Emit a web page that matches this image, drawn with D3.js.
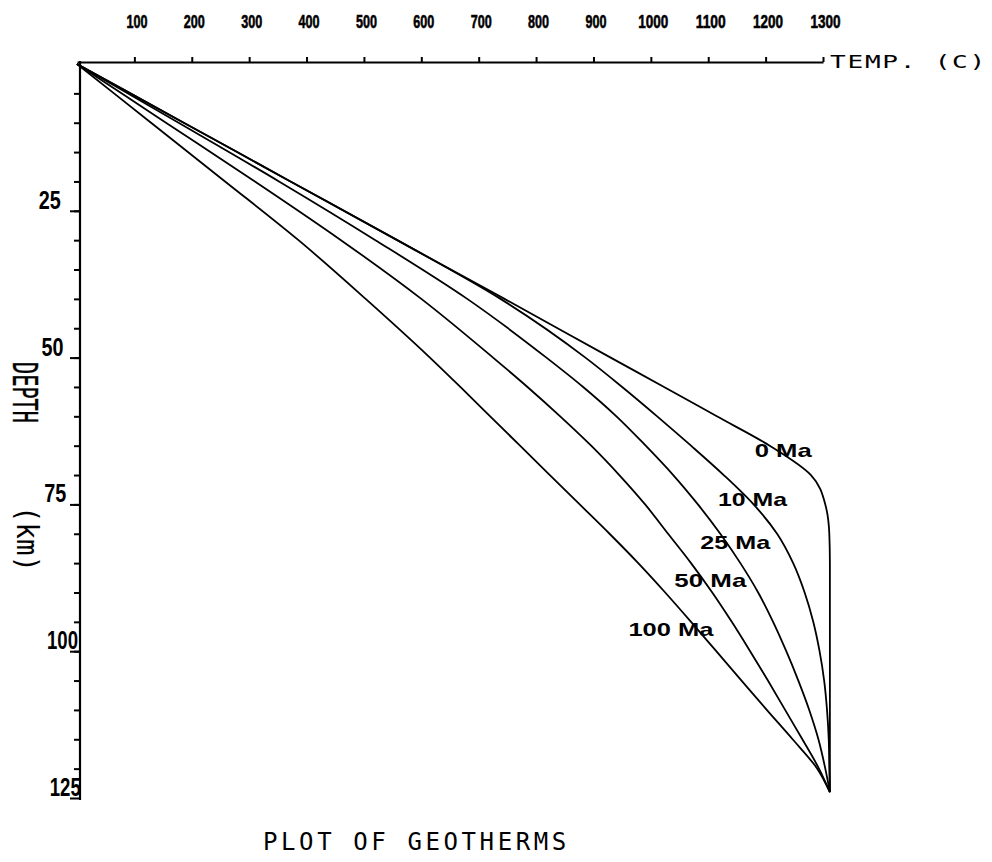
<!DOCTYPE html>
<html>
<head>
<meta charset="utf-8">
<script src="https://cdn.jsdelivr.net/npm/d3@7"></script>
<style>
  body { margin: 0; background: #fff; }
  svg { display: block; }
  text { fill: #000; }
</style>
</head>
<body>
<div class="chart"></div>
<script>
var svgWidth = 992;
var svgHeight = 862;

var depthKm = [0, 10, 20, 30, 40, 50, 55, 60, 65, 70, 75, 80, 85, 90, 95, 100, 105, 110, 115, 120, 124];

// temperature (C) of each geotherm at those depths
var temp0Ma   = [0, 186, 372, 558, 745, 930, 1023, 1115, 1207, 1279, 1304, 1311, 1312, 1312, 1312, 1312, 1312, 1312, 1312, 1312, 1312];
var temp10Ma  = [0, 186, 372, 558, 738, 886, 950, 1011, 1070, 1127, 1179, 1220, 1248, 1268, 1283, 1294, 1302, 1307, 1310, 1311, 1312];
var temp25Ma  = [0, 177, 352, 520, 680, 818, 882, 940, 991, 1039, 1082, 1121, 1156, 1187, 1213, 1236, 1257, 1276, 1292, 1304, 1312];
var temp50Ma  = [0, 155, 310, 460, 600, 725, 785, 842, 896, 945, 990, 1030, 1070, 1107, 1141, 1173, 1204, 1234, 1264, 1293, 1312];
var temp100Ma = [0, 129, 258, 386, 503, 615, 668, 720, 772, 824, 876, 928, 978, 1025, 1070, 1114, 1158, 1202, 1247, 1290, 1312];

var ageLabels = ["0 Ma", "10 Ma", "25 Ma", "50 Ma", "100 Ma"];
var tempTicks = [100, 200, 300, 400, 500, 600, 700, 800, 900, 1000, 1100, 1200, 1300];
var depthTicks = [25, 50, 75, 100, 125];

var series = [temp0Ma, temp10Ma, temp25Ma, temp50Ma, temp100Ma];

// where each age label sits (temp, depth) and how wide it is drawn
var labelSpots = [[1181, 66.9, 57], [1117, 75.3, 69], [1086, 82.6, 70], [1041, 89.1, 72], [961, 97.4, 85]];

var svg = d3.select(".chart")
  .append("svg")
  .attr("width", svgWidth)
  .attr("height", svgHeight);

var x = d3.scaleLinear().domain([0, 1300]).range([77, 823]);
var y = d3.scaleLinear().domain([0, 125]).range([64, 798]);

// top temperature axis
var topAxis = svg.append("g")
  .attr("transform", "translate(0,62)")
  .call(d3.axisTop(x).tickValues(tempTicks).tickFormat(d3.format("d"))
    .tickSize(5).tickSizeOuter(0).tickPadding(29));

topAxis.select(".domain").attr("stroke", "#000").attr("stroke-width", 2);
topAxis.selectAll(".tick line").attr("stroke", "#000").attr("stroke-width", 2);
topAxis.selectAll(".tick text")
  .attr("x", 2)
  .attr("font-family", "Liberation Sans, Arial, sans-serif")
  .attr("font-weight", "bold")
  .attr("font-size", 19)
  .attr("stroke", "#000")
  .attr("stroke-width", 0.6)
  .attr("textLength", d => d >= 1000 ? 30 : 21)
  .attr("lengthAdjust", "spacingAndGlyphs");

// plotter lettering is stretched sideways
svg.append("text")
  .attr("transform", "translate(830,68) scale(1.45,1)")
  .attr("font-family", "DejaVu Sans Mono, monospace")
  .attr("font-size", 18)
  .attr("letter-spacing", 1.2)
  .text("TEMP. (C)");

// left depth axis
var leftG = svg.append("g").attr("transform", "translate(80,0)");

leftG.append("g")
  .call(d3.axisLeft(y).tickValues(d3.range(5, 125, 5)).tickSize(6).tickFormat(""))
  .call(g => g.select(".domain").remove())
  .selectAll("line").attr("stroke", "#000").attr("stroke-width", 2);

leftG.append("g")
  .call(d3.axisLeft(y).tickValues(depthTicks).tickSize(10).tickFormat(""))
  .call(g => g.select(".domain").remove())
  .selectAll("line").attr("stroke", "#000").attr("stroke-width", 2);

leftG.append("line")
  .attr("x1", 0).attr("x2", 0)
  .attr("y1", 61).attr("y2", 800)
  .attr("stroke", "#000")
  .attr("stroke-width", 2.2);

svg.selectAll(".depthLabel")
  .data(depthTicks)
  .enter()
  .append("text")
  .attr("class", "depthLabel")
  .attr("x", d => 36 + 0.11 * d)
  .attr("y", d => y(d) - 2)
  .attr("font-family", "Liberation Sans, Arial, sans-serif")
  .attr("font-weight", "bold")
  .attr("font-size", 25)
  .attr("textLength", d => d >= 100 ? 31 : 22)
  .attr("lengthAdjust", "spacingAndGlyphs")
  .text(d => d);

svg.append("text")
  .attr("transform", "translate(13,362) rotate(90)")
  .attr("font-family", "DejaVu Sans Mono, monospace")
  .attr("font-size", 34)
  .attr("stroke", "#000")
  .attr("stroke-width", 0.4)
  .attr("textLength", 61)
  .attr("lengthAdjust", "spacingAndGlyphs")
  .text("DEPTH");

svg.append("text")
  .attr("transform", "translate(17,506) rotate(90)")
  .attr("font-family", "DejaVu Sans Mono, monospace")
  .attr("font-size", 30)
  .attr("textLength", 66)
  .attr("lengthAdjust", "spacingAndGlyphs")
  .text("(km)");

// geotherms
var line = d3.line()
  .x(d => x(d[0]))
  .y(d => y(d[1]))
  .curve(d3.curveMonotoneY);

svg.selectAll(".geotherm")
  .data(series)
  .enter()
  .append("path")
  .attr("class", "geotherm")
  .attr("d", s => line(s.map((t, i) => [t, depthKm[i]])))
  .attr("fill", "none")
  .attr("stroke", "#000")
  .attr("stroke-width", 1.8);

svg.selectAll(".ageLabel")
  .data(ageLabels)
  .enter()
  .append("text")
  .attr("class", "ageLabel")
  .attr("x", (d, i) => x(labelSpots[i][0]))
  .attr("y", (d, i) => y(labelSpots[i][1]))
  .attr("font-family", "Liberation Sans, Arial, sans-serif")
  .attr("font-weight", "bold")
  .attr("font-size", 19)
  .attr("textLength", (d, i) => labelSpots[i][2])
  .attr("lengthAdjust", "spacingAndGlyphs")
  .text(d => d);

// title
svg.append("text")
  .attr("x", 263)
  .attr("y", 850)
  .attr("font-family", "DejaVu Sans Mono, monospace")
  .attr("font-size", 24)
  .attr("letter-spacing", 3.6)
  .text("PLOT OF GEOTHERMS");
</script>
</body>
</html>
